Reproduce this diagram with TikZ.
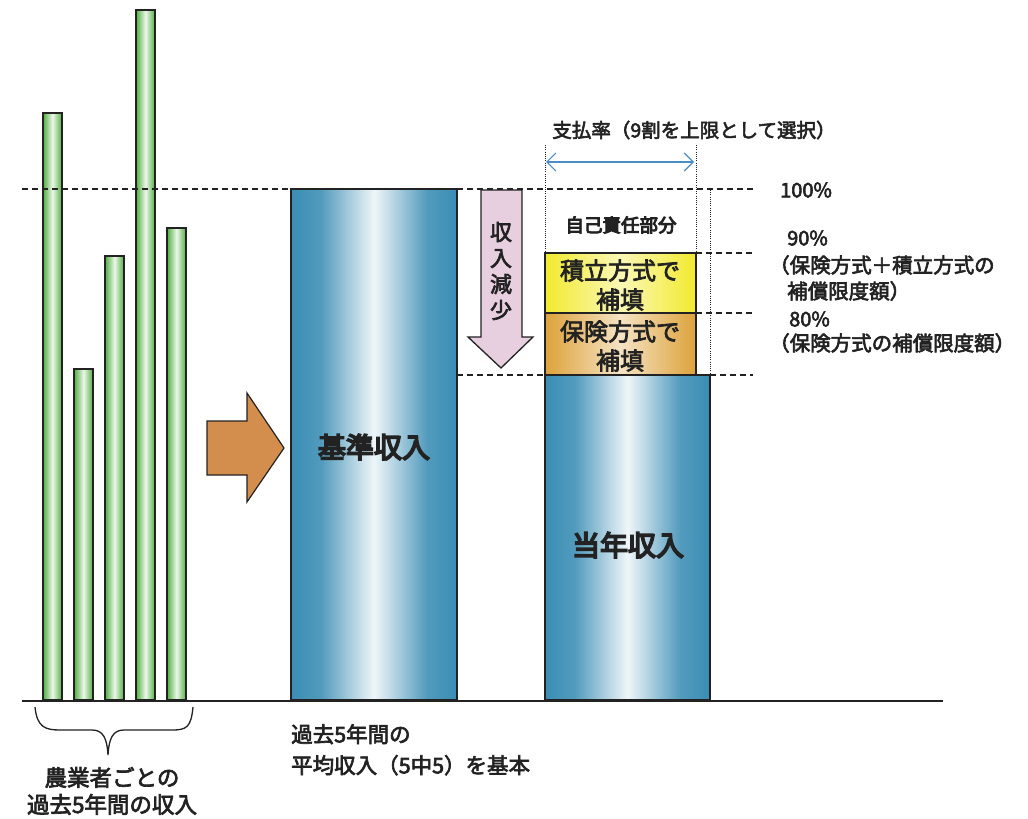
\documentclass[tikz,border=0pt]{standalone}
\usepackage{fontspec}
\setmainfont{Noto Sans CJK JP}[FakeBold=3]
\newfontfamily\jpheavy{Noto Sans CJK JP}[FakeBold=6]
\newfontfamily\jpmed{Noto Sans CJK JP}[FakeBold=5]
\usetikzlibrary{arrows.meta}
\definecolor{barblue}{HTML}{3A8DB4}
\definecolor{bargreen}{HTML}{4FAE3E}
\definecolor{boxyellow}{HTML}{F2EA2E}
\definecolor{boxorange}{HTML}{DDA23A}
\definecolor{arrorange}{HTML}{D38E4E}
\definecolor{arrpink}{HTML}{E8CFE0}
\definecolor{ink}{HTML}{222222}
\definecolor{dblue}{HTML}{4A8CC8}
\pgfdeclarehorizontalshading{bluebar}{100bp}{color(0bp)=(barblue); color(25bp)=(barblue); color(34bp)=(barblue!88!white); color(50bp)=(white!92!barblue); color(66bp)=(barblue!88!white); color(75bp)=(barblue); color(100bp)=(barblue)}
\pgfdeclarehorizontalshading{greenbar}{100bp}{color(0bp)=(bargreen); color(25bp)=(bargreen); color(50bp)=(white!90!bargreen); color(75bp)=(bargreen); color(100bp)=(bargreen)}
\pgfdeclarehorizontalshading{yelbox}{100bp}{color(0bp)=(boxyellow); color(25bp)=(boxyellow); color(50bp)=(white!65!boxyellow); color(75bp)=(boxyellow); color(100bp)=(boxyellow)}
\pgfdeclarehorizontalshading{orbox}{100bp}{color(0bp)=(boxorange); color(25bp)=(boxorange); color(50bp)=(white!70!boxorange); color(75bp)=(boxorange); color(100bp)=(boxorange)}
\begin{document}
\begin{tikzpicture}[x=1pt,y=-1pt,
  bar/.style={draw=ink, line width=1.4pt, inner sep=0pt, outer sep=0pt, anchor=south west, shade},
  gbar/.style={bar, shading=greenbar, minimum width=19pt},
  guide/.style={draw=ink, line width=1.6pt, dash pattern=on 6pt off 4pt},
  dotline/.style={draw=ink, line width=1pt, dash pattern=on 1pt off 1.2pt},
  txt/.style={inner sep=0pt, text=ink},
]
\useasboundingbox (0,0) rectangle (1028,819);
\fill[white] (0,0) rectangle (1028,819);

% green bars
\node[gbar, minimum height=587pt] (g1) at (43,700) {};
\node[gbar, minimum height=331pt] (g2) at (74,700) {};
\node[gbar, minimum height=444pt] (g3) at (105,700) {};
\node[gbar, minimum height=690pt] (g4) at (136,700) {};
\node[gbar, minimum height=472pt] (g5) at (167,700) {};

% blue bars
\node[bar, shading=bluebar, minimum width=166pt, minimum height=511pt] (base) at (291,700) {};
\node[bar, shading=bluebar, minimum width=165pt, minimum height=325pt] (cur) at (545,700) {};
\node[bar, shading=yelbox, minimum width=151pt, minimum height=60pt] (ybox) at (545,313) {};
\node[bar, shading=orbox, minimum width=151pt, minimum height=62pt] (obox) at (545,375) {};

% orange arrow
\draw[fill=arrorange, draw=ink, line width=1.2pt, line join=miter]
  (207,421) -- (247,421) -- (247,393) -- (284,448) -- (247,502) -- (247,475) -- (207,475) -- cycle;

% pink arrow
\draw[fill=arrpink, draw=ink, line width=1.3pt, line join=miter]
  (481,190) -- (522,190) -- (522,337) -- (533,337) -- (501,368) -- (468,337) -- (481,337) -- cycle;
\node[txt, align=center, font=\fontsize{22}{26}\selectfont] (dec) at (501,271) {収\\入\\減\\少};

% guide coordinates
\coordinate (l0) at (22,189);
\coordinate (r100) at (753,189);
\coordinate (r90) at (753,253);
\coordinate (r80) at (753,313);
\coordinate (rcur) at (753,375);

% dashed guides
\draw[guide] (l0) -- (base.north west);
\draw[guide] (base.north east) -- (r100);
\draw[guide] (ybox.north east) -- (r90);
\draw[guide] (obox.north east) -- (r80);
\draw[guide] (base.east |- cur.north) -- (cur.north west);
\draw[guide] (cur.north east) -- (rcur);

% dotted verticals
\coordinate (dl) at (545,145);
\coordinate (dr) at (696,145);
\draw[dotline] (dl) -- (ybox.north west);
\draw[dotline] (dr) -- (ybox.north east);
\draw[dotline] (710,190) -- (cur.north east);

% double arrow
\coordinate (da) at (546,162);
\coordinate (db) at (694,162);
\draw[dblue, line width=1.2pt, {Straight Barb[length=9pt,width=18pt,line width=1.2pt]}-{Straight Barb[length=9pt,width=18pt,line width=1.2pt]}] (da) -- (db);

% baseline
\coordinate (bl) at (22,701);
\coordinate (br) at (943,701);
\draw[ink, line width=2.6pt] (bl) -- (br);

% brace
\draw[ink, line width=1.3pt]
  (35,707) .. controls (37,727) and (45,730) .. (60,730) -- (92,730)
  .. controls (103,730) and (107,738) .. (108,755)
  .. controls (109,738) and (113,730) .. (124,730) -- (172,730)
  .. controls (187,730) and (191,727) .. (193,707);

% texts
\node[txt, font=\jpheavy\fontsize{28}{32}\selectfont] (tbase) at (374,447) {基準収入};
\node[txt, font=\jpheavy\fontsize{28}{32}\selectfont] (tcur) at (628,545) {当年収入};
\node[txt, align=center, font=\fontsize{24}{29}\selectfont] (ty) at (620,285) {積立方式で\\補填};
\node[txt, align=center, font=\fontsize{24}{29}\selectfont] (to) at (620,346) {保険方式で\\補填};
\node[txt, font=\jpmed\fontsize{18.5}{22}\selectfont] (tself) at (621,225) {自己責任部分};
\node[txt, font=\fontsize{19.5}{24}\selectfont] (trate) at (694,130) {支払率（9割を上限として選択）};

\node[txt, anchor=west, font=\fontsize{20}{24}\selectfont] (p100) at (780,190) {100\%};
\node[txt, anchor=west, font=\fontsize{20}{24}\selectfont] (p90) at (787,238) {90\%};
\node[txt, anchor=west, font=\fontsize{20.5}{24}\selectfont] (p90a) at (769,265) {（保険方式＋積立方式の};
\node[txt, anchor=west, font=\fontsize{20.5}{24}\selectfont] (p90b) at (787,291) {補償限度額）};
\node[txt, anchor=west, font=\fontsize{20}{24}\selectfont] (p80) at (789,319) {80\%};
\node[txt, anchor=west, font=\fontsize{20.5}{24}\selectfont] (p80a) at (769,343) {（保険方式の補償限度額）};

\node[txt, align=center, font=\fontsize{22.5}{27}\selectfont] (tfarm) at (112,791) {農業者ごとの\\過去5年間の収入};
\node[txt, anchor=north west, align=left, font=\fontsize{21.5}{31}\selectfont] (tavg) at (291,724) {過去5年間の\\平均収入（5中5）を基本};
\end{tikzpicture}
\end{document}
